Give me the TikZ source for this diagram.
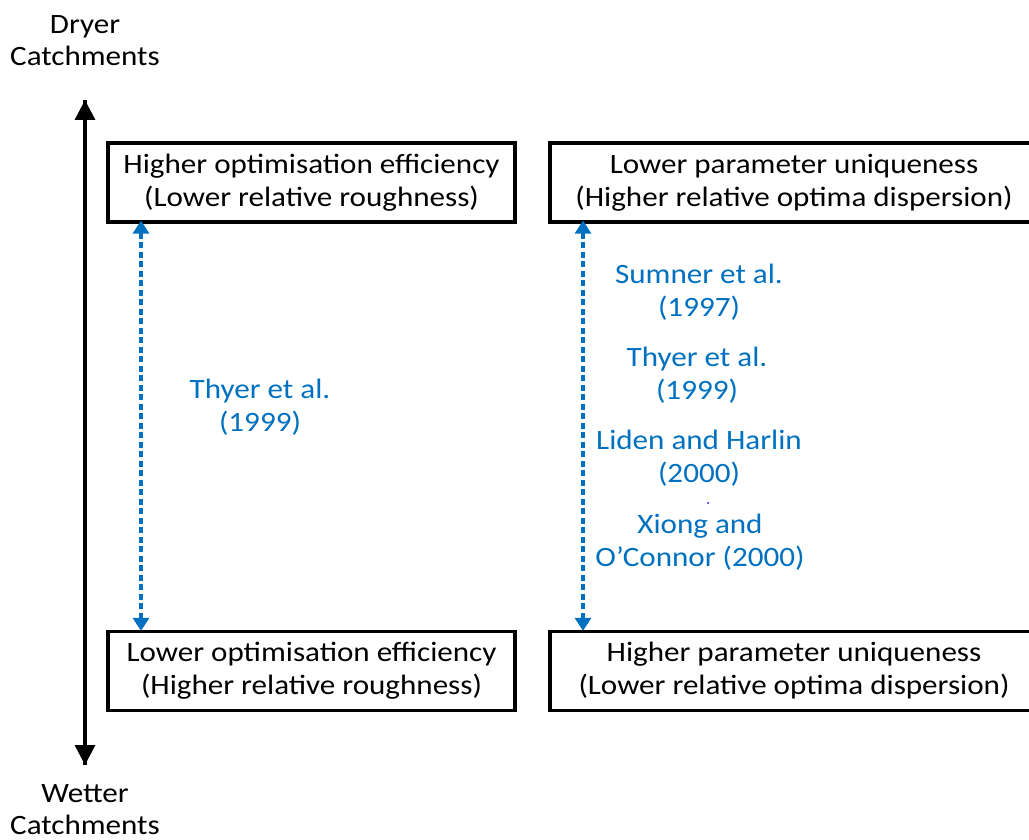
\documentclass[tikz,border=0pt]{standalone}
\usepackage{fontspec}
\setmainfont{Carlito}[FakeStretch=1.11]
\usetikzlibrary{arrows.meta}
\definecolor{refblue}{HTML}{0070C0}
\tikzset{
  box/.style={draw=black, line width=3.3pt, align=center, inner sep=0pt,
    minimum height=79pt, font=\fontsize{28}{33}\selectfont},
  axislabel/.style={align=center, font=\fontsize{28}{32}\selectfont},
  citation/.style={align=center, text=refblue, font=\fontsize{28}{33}\selectfont},
  axis/.style={line width=3.3pt, -{Triangle[width=20pt,length=20pt]}},
  link/.style={refblue, line width=3.3pt, dash pattern=on 6pt off 3.5pt,
    {Triangle[width=16pt,length=13pt]}-{Triangle[width=16pt,length=13pt]}}
}
\begin{document}
\begin{tikzpicture}[x=1pt,y=-1pt]
\useasboundingbox (0,0) rectangle (1029,840);
\clip (0,0) rectangle (1029,840);

% axis labels and the vertical wet/dry axis
\node[axislabel] (dry) at (85,41) {Dryer\\Catchments};
\node[axislabel] (wet) at (85,810) {Wetter\\Catchments};
\coordinate (axtop) at (85,100);
\coordinate (axbot) at (85,765);
\draw[axis] (axbot) -- (axtop);
\draw[axis] (axtop) -- (axbot);

% outcome boxes
\node[box, minimum width=407pt] (hoe) at (311.5,182.5)
  {Higher optimisation efficiency\\(Lower relative roughness)};
\node[box, minimum width=488pt] (lpu) at (794,182.5)
  {Lower parameter uniqueness\\(Higher relative optima dispersion)};
\node[box, minimum width=407pt] (loe) at (311.5,671)
  {Lower optimisation efficiency\\(Higher relative roughness)};
\node[box, minimum width=488pt] (hpu) at (794,671)
  {Higher parameter uniqueness\\(Lower relative optima dispersion)};

% dashed links between the boxes
\draw[link] ([xshift=-170.5pt,yshift=3pt]hoe.south) -- ([xshift=-170.5pt,yshift=-1pt]loe.north);
\draw[link] ([xshift=-211pt,yshift=3pt]lpu.south) -- ([xshift=-211pt,yshift=-1pt]hpu.north);

% citations
\node[citation] (thy1) at (260,407) {Thyer et al.\\(1999)};
\node[citation] (sum) at (699,292) {Sumner et al.\\(1997)};
\node[citation] (thy2) at (697,375) {Thyer et al.\\(1999)};
\node[citation] (lid) at (699,458.5) {Liden and Harlin\\(2000)};
\node[citation] (xio) at (700,542.5) {Xiong and\\O’Connor (2000)};
\fill[blue!70!violet] (708,503) circle (1pt);
\end{tikzpicture}
\end{document}
